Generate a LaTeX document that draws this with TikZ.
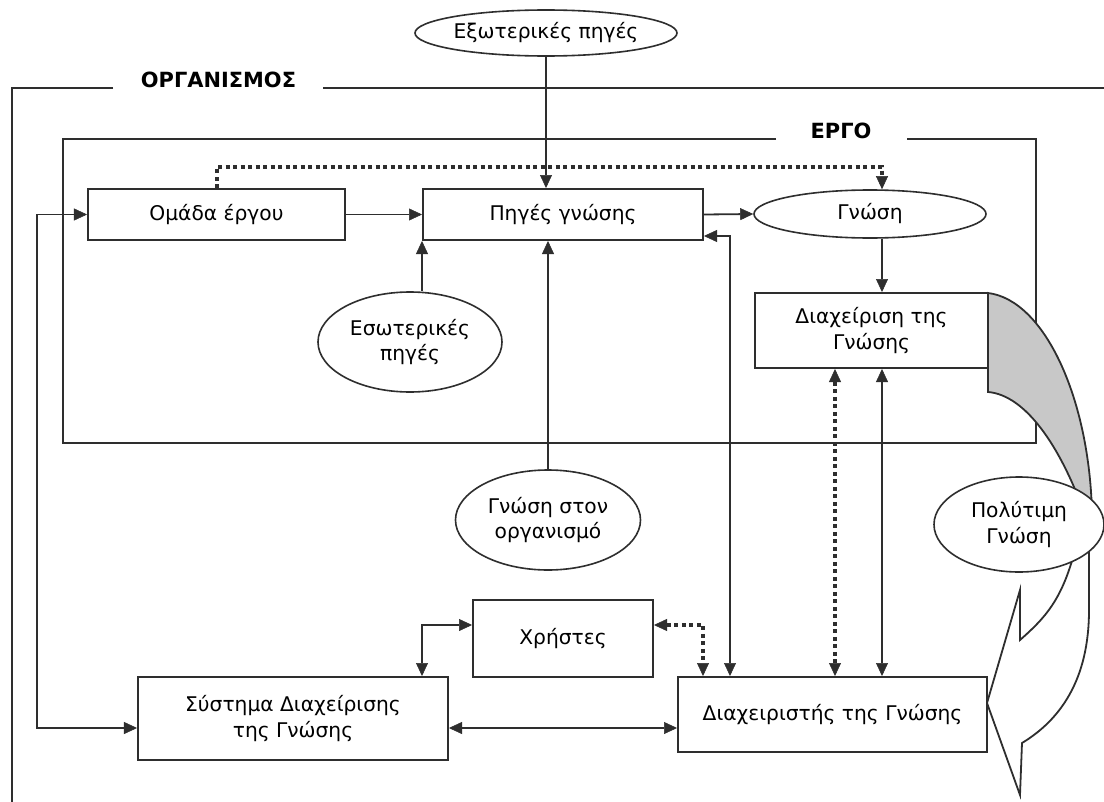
\documentclass[tikz,border=0pt]{standalone}
\usepackage{fontspec}
\setmainfont{DejaVu Sans}
\usetikzlibrary{arrows.meta,shapes.geometric}
\definecolor{ln}{HTML}{2E2E2E}
\definecolor{shade}{HTML}{C8C8C8}

\tikzset{
  txt/.style={font=\fontsize{20.3}{25.5}\selectfont, text=black, align=center},
  box/.style={txt, draw=ln, line width=2bp, fill=white, rectangle, inner sep=2bp},
  oval/.style={txt, draw=ln, line width=1.6bp, fill=white, ellipse, inner sep=0pt},
  title/.style={font=\bfseries\fontsize{21}{25}\selectfont, text=black, fill=white, inner sep=0pt},
  frame/.style={draw=ln, line width=2bp},
  conn/.style={draw=ln, line width=1.8bp},
  tipA/.tip={Triangle[length=13bp,width=12bp,line width=0.5bp]},
  arr/.style={conn, -tipA},
  dbl/.style={conn, tipA-tipA},
  dotln/.style={draw=ln, line width=4bp, dash pattern=on 4bp off 3.5bp},
  dotarr/.style={dotln, -tipA},
  dotdbl/.style={dotln, tipA-tipA},
}

\begin{document}
\begin{tikzpicture}[x=1bp,y=-1bp]
\useasboundingbox (0,0) rectangle (1104,802);
\fill[white] (0,0) rectangle (1104,802);

% organisation frame and its title
\draw[frame] (113,88) -- (12,88) -- (12,802);
\draw[frame] (323,88) -- (1104,88);
\node[title] (orgtitle) at (218.5,80) {ΟΡΓΑΝΙΣΜΟΣ};

% project frame and its title
\draw[frame] (776,139) -- (63,139) -- (63,443) -- (1036,443) -- (1036,139) -- (907,139);
\node[title] (projtitle) at (841,131) {ΕΡΓΟ};

% curved flow: shaded part from knowledge management
\draw[conn, fill=shade] (988,293) .. controls (1045,300) and (1090,400) .. (1092,515)
  -- (1085,515) .. controls (1060,445) and (1025,395) .. (988,392) -- cycle;
% curved flow: white part with its head at the knowledge manager
\draw[conn, fill=white] (1089,515) -- (1089,610) .. controls (1089,680) and (1060,720) .. (1022,743)
  -- (1020,795) -- (987,703) -- (1020,590) -- (1020,640)
  .. controls (1045,618) and (1062,600) .. (1075,550) -- cycle;

% nodes
\node[oval, minimum width=262bp, minimum height=46bp] (ext) at (546,33) {Εξωτερικές πηγές};
\node[box, minimum width=257bp, minimum height=51bp] (team) at (216.5,214.5) {Ομάδα έργου};
\node[box, minimum width=280bp, minimum height=51bp] (src) at (563,214.5) {Πηγές γνώσης};
\node[oval, minimum width=232bp, minimum height=48bp] (know) at (870,214) {Γνώση};
\node[box, minimum width=233bp, minimum height=75bp] (km) at (871.5,330.5) {Διαχείριση της\\Γνώσης};
\node[oval, minimum width=184bp, minimum height=100bp] (intsrc) at (410,342) {Εσωτερικές\\πηγές};
\node[oval, minimum width=185bp, minimum height=100bp] (orgk) at (548,520) {Γνώση στον\\οργανισμό};
\node[oval, minimum width=170bp, minimum height=95bp] (prec) at (1019,524.5) {Πολύτιμη\\Γνώση};
\node[box, minimum width=180bp, minimum height=77bp] (users) at (563,638.5) {Χρήστες};
\node[box, minimum width=310bp, minimum height=83bp] (kms) at (293,718.5) {Σύστημα Διαχείρισης\\της Γνώσης};
\node[box, minimum width=309bp, minimum height=75bp] (kmgr) at (832.5,714.5) {Διαχειριστής της Γνώσης};

% helper positions for the connectors
\coordinate (xA) at (882,0);
\coordinate (xB) at (835,0);
\coordinate (xC) at (730,0);
\coordinate (xD) at (703,0);
\coordinate (xE) at (422,0);
\coordinate (xL) at (37,0);
\coordinate (yT) at (0,167);
\coordinate (yU) at (0,625);
\coordinate (yS) at (0,236);
\coordinate (yH) at (0,728);

% connectors inside the project
\draw[arr] (ext.south) -- (ext.south |- src.north);
\draw[arr] (team.east) -- (src.west);
\draw[arr] (src.east) -- (know.west);
\draw[dotarr] (team.north) -- (team.north |- yT) -- (yT -| xA) -- (know.north -| xA);
\draw[arr] (intsrc.north -| src.south west) -- (src.south west);
\draw[arr] (orgk.north) -- (orgk.north |- src.south);
\draw[arr] (know.south -| xA) -- (km.north -| xA);

% connectors down to the knowledge manager
\draw[dotdbl] (km.south -| xB) -- (kmgr.north -| xB);
\draw[dbl] (km.south -| xA) -- (kmgr.north -| xA);
\draw[dbl] (src.east |- yS) -- (yS -| xC) -- (kmgr.north -| xC);

% connectors among the lower boxes
\draw[dbl] (users.west |- yU) -- (yU -| xE) -- (kms.north -| xE);
\draw[dotdbl] (users.east |- yU) -- (yU -| xD) -- (kmgr.north -| xD);
\draw[dbl] (kms.east |- yH) -- (kmgr.west |- yH);
\draw[dbl] (team.west) -- (team.west -| xL) -- (xL |- yH) -- (kms.west |- yH);
\end{tikzpicture}
\end{document}
